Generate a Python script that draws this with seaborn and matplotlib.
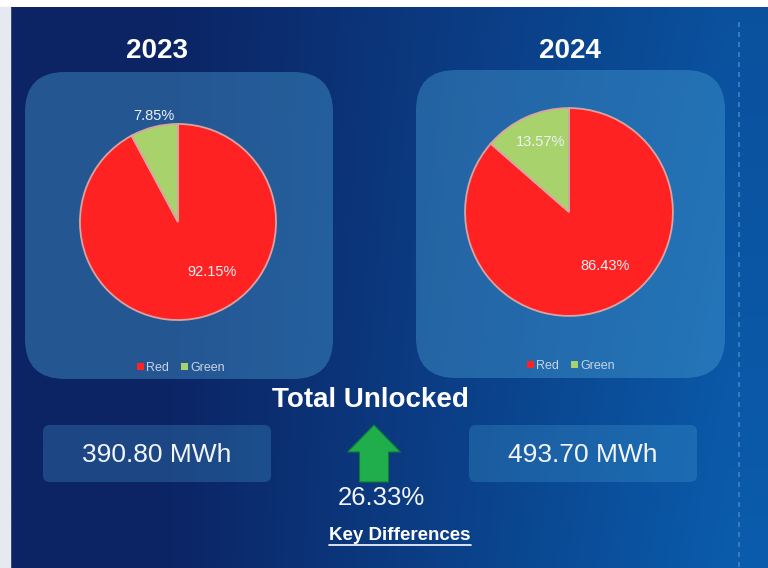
import numpy as np
import matplotlib
matplotlib.use("Agg")
import matplotlib.pyplot as plt
from matplotlib.patches import FancyBboxPatch, FancyArrow, Rectangle, Patch
import seaborn as sns

sns.set_theme(style="white")
plt.rcParams['font.family'] = ['Liberation Sans', 'DejaVu Sans']

# data
years = ["2023", "2024"]
categories = ["Red", "Green"]
red_share = [92.15, 86.43]
green_share = [7.85, 13.57]
totals_mwh = [390.80, 493.70]
change_pct = 26.33

pie_colors = ["#ff2222", "#a8d26c"]
W, H = 768, 568

fig = plt.figure(figsize=(W / 100, H / 100), dpi=100, facecolor="white")

# full-size pixel canvas for background, panels and text
bg = fig.add_axes([0, 0, 1, 1])
bg.set_xlim(0, W)
bg.set_ylim(H, 0)
bg.axis("off")

# blue gradient background
xx, yy = np.meshgrid(np.linspace(0, 1, 300), np.linspace(0, 1, 220))
t = np.clip((xx - 0.2) / 0.75, 0, 1) * (0.8 + 0.2 * yy)
c0 = np.array([12, 36, 100]) / 255
c1 = np.array([10, 92, 172]) / 255
grad = c0[None, None, :] * (1 - t[..., None]) + c1[None, None, :] * t[..., None]
bg.imshow(grad, extent=(10, W, H, 7), aspect="auto", zorder=0, interpolation="bilinear")
bg.add_patch(Rectangle((0, 7), 10, H, color="#e6e9ef", zorder=1))

# dashed divider on the right
bg.plot([739, 739], [22, H], color="#3f82c4", lw=1.2, ls=(0, (3, 3)), zorder=1)

# rounded panels behind the pies
panels = [(25, 72, 308, 307), (416, 70, 309, 308)]
for (x, y, w, h) in panels:
    bg.add_patch(FancyBboxPatch((x, y), w, h, boxstyle="round,pad=0,rounding_size=40",
                                fc="#4aa3d8", alpha=0.4, ec="none", zorder=2))

title_x = [157, 570]
for yr, tx in zip(years, title_x):
    bg.text(tx, 51, yr, color="white", fontsize=20, fontweight="bold",
            ha="center", va="center", zorder=5)

# value boxes
boxes = [(43, 425, 228, 57), (469, 425, 228, 57)]
for (x, y, w, h), val in zip(boxes, totals_mwh):
    bg.add_patch(FancyBboxPatch((x, y), w, h, boxstyle="round,pad=0,rounding_size=7",
                                fc="#4aa3d8", alpha=0.28, ec="none", zorder=2))
    bg.text(x + w / 2, y + h / 2 + 1, f"{val:.2f} MWh", color="#f2f5fb", fontsize=19,
            ha="center", va="center", zorder=5)

bg.text(370, 400, "Total Unlocked", color="white", fontsize=20, fontweight="bold",
        ha="center", va="center", zorder=5)

# up arrow
bg.add_patch(FancyArrow(374, 482, 0, -57, width=29, head_width=53, head_length=27,
                        length_includes_head=True, fc="#1fae4b", ec="#0f7a35", lw=0.8, zorder=4))

bg.text(381, 498, f"{change_pct:.2f}%", color="#f2f5fb", fontsize=18.5,
        ha="center", va="center", zorder=5)
kd = bg.text(400, 535, "Key Differences", color="white", fontsize=13.5, fontweight="bold",
             ha="center", va="center", zorder=5)
fig.canvas.draw()
bb = kd.get_window_extent().transformed(bg.transData.inverted())
bg.plot([bb.x0, bb.x1], [545, 545], color="white", lw=1.2, zorder=5)

# pies
pie_boxes = [(178, 222, 100), (569, 212, 106)]
legend_pos = [(181, 368), (571, 366)]
# where along each wedge the % label sits (fraction of sweep, radius)
label_place = [[(0.56, 0.62), (0.45, 1.11)], [(0.53, 0.62), (0.45, 0.73)]]

for i in range(len(years)):
    cx, cy, r = pie_boxes[i]
    ax = fig.add_axes([(cx - r) / W, (H - cy - r) / H, 2 * r / W, 2 * r / H])
    vals = [red_share[i], green_share[i]]
    wedges, _ = ax.pie(vals, colors=pie_colors, startangle=90, counterclock=False,
                       wedgeprops=dict(edgecolor="#d9a3a3", linewidth=1.3))
    ax.set_xlim(-1.02, 1.02)
    ax.set_ylim(-1.02, 1.02)
    ax.axis("off")
    for wdg, v, (frac, dist) in zip(wedges, vals, label_place[i]):
        th1, th2 = wdg.theta1, wdg.theta2
        ang = np.deg2rad(th1 + frac * (th2 - th1))
        ax.text(dist * np.cos(ang), dist * np.sin(ang), f"{v:.2f}%", color="#eef1f8",
                fontsize=10.5, ha="center", va="center")
    handles = [Patch(facecolor=c, edgecolor="none") for c in pie_colors]
    lx, ly = legend_pos[i]
    fig.legend(handles, categories, loc="center", bbox_to_anchor=(lx / W, 1 - ly / H),
               ncol=2, frameon=False, fontsize=9, handlelength=0.55, handleheight=0.55,
               handletextpad=0.2, columnspacing=1.0, labelcolor="#c9d3e3")

fig.savefig("out.png", dpi=100)
